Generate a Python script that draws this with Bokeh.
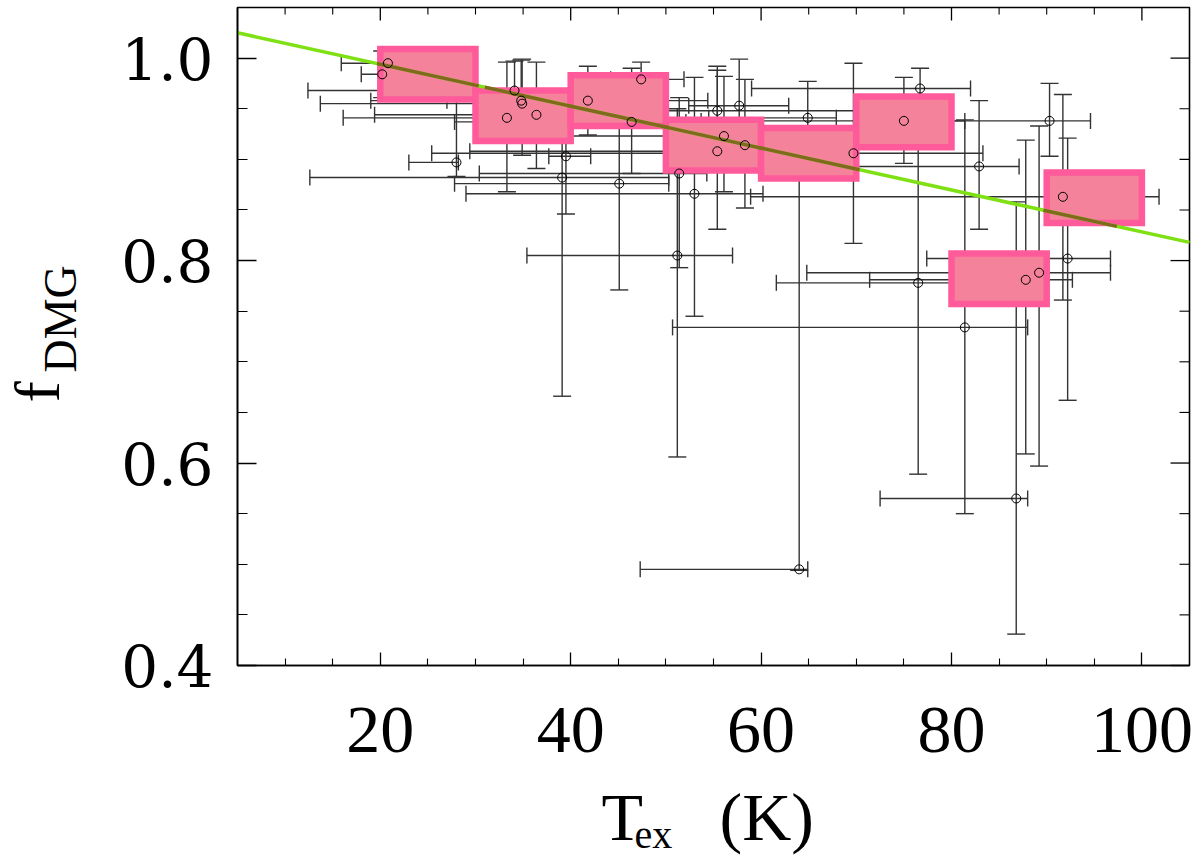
import math
from bokeh.plotting import figure
from bokeh.embed import file_html
from bokeh.resources import INLINE
from bokeh.models import (ColumnDataSource, Range1d, LinearAxis, FixedTicker,
                          PrintfTickFormatter, Whisker, TeeHead, Label)

# excitation temperature (K) with asymmetric error ranges
t_ex = [20.8, 20.2, 28.0, 34.1, 34.8, 34.9, 33.3, 36.4, 41.8, 39.5, 39.1, 45.1,
        47.4, 46.4, 51.4, 51.2, 53.0, 55.4, 55.4, 56.1, 57.7, 58.3, 64.0, 64.9,
        69.7, 75.0, 76.7, 76.5, 81.4, 82.9, 86.8, 87.8, 89.2, 90.3, 91.7, 92.2]
t_lo = [15.9, 18.0, 23.0, 12.4, 19.0, 13.7, 16.1, 19.4, 27.0, 37.7, 12.6, 27.8,
        44.2, 27.8, 30.4, 35.4, 29.0, 41.0, 29.4, 37.5, 52.4, 52.4, 47.3, 54.5,
        25.4, 53.7, 59.0, 61.6, 50.7, 69.1, 72.5, 71.4, 64.8, 76.0, 58.9, 77.4]
t_hi = [25.2, 23.7, 28.2, 48.6, 54.4, 48.6, 40.7, 40.7, 48.6, 42.1, 50.3, 50.3,
        51.9, 52.1, 54.3, 57.0, 60.2, 69.9, 63.9, 61.8, 62.9, 64.1, 64.9, 67.9,
        83.3, 81.4, 82.0, 81.0, 88.0, 87.1, 88.0, 92.7, 96.7, 94.6, 101.8, 96.7]

# depletion factor with error ranges
f_dmg = [0.995, 0.984, 0.897, 0.968, 0.958, 0.955, 0.941, 0.944, 0.958, 0.903, 0.882, 0.876,
         0.979, 0.937, 0.886, 0.805, 0.866, 0.948, 0.908, 0.923, 0.953, 0.914, 0.495, 0.941,
         0.906, 0.938, 0.970, 0.778, 0.734, 0.893, 0.565, 0.781, 0.788, 0.938, 0.863, 0.802]
f_lo = [0.991, 0.961, 0.883, 0.917, 0.917, 0.904, 0.868, 0.891, 0.924, 0.846, 0.666, 0.771,
        0.963, 0.886, 0.793, 0.606, 0.745, 0.905, 0.831, 0.868, 0.904, 0.852, 0.494, 0.906,
        0.817, 0.896, 0.951, 0.589, 0.550, 0.831, 0.431, 0.609, 0.597, 0.903, 0.761, 0.662]
f_hi = [0.998, 1.007, 0.980, 0.997, 0.998, 0.999, 0.996, 0.996, 0.992, 0.962, 0.950, 0.978,
        0.996, 0.990, 0.961, 0.950, 0.981, 0.992, 0.988, 0.982, 0.999, 0.979, 0.881, 0.977,
        0.995, 0.981, 0.990, 0.919, 0.939, 0.958, 0.858, 0.919, 0.933, 0.975, 0.964, 0.921]

# binned means (10 K bins)
bin_lo = [20, 30, 40, 50, 60, 70, 80, 90]
bin_hi = [30, 40, 50, 60, 70, 80, 90, 100]
bin_f = [0.984, 0.943, 0.958, 0.914, 0.906, 0.937, 0.782, 0.862]
bin_err = [0.025, 0.025, 0.025, 0.025, 0.025, 0.025, 0.025, 0.025]

# linear fit, end points
fit_t = [5, 105]
fit_f = [1.025, 0.818]

# ticks
x_ticks = [20, 40, 60, 80, 100]
x_minor = [10, 15, 25, 30, 35, 45, 50, 55, 65, 70, 75, 85, 90, 95]
y_ticks = [0.4, 0.6, 0.8, 1.0]
y_minor = [0.45, 0.5, 0.55, 0.65, 0.7, 0.75, 0.85, 0.9, 0.95]

# visible plot box (data) and where it sits on the canvas (px)
X0, X1 = 5, 105
Y0, Y1 = 0.4, 1.05
W, H = 1200, 856
BOX_L, BOX_R, BOX_T, BOX_B = 237, 1189, 7, 665
kx = (X1 - X0) / (BOX_R - BOX_L)
ky = (Y1 - Y0) / (BOX_B - BOX_T)

# the frame fills the canvas so that the axis titles are not clipped;
# the axes themselves sit at the edges of the data box
p = figure(frame_width=W, frame_height=H,
           x_range=Range1d(X0 - BOX_L * kx, X0 + (W - BOX_L) * kx),
           y_range=Range1d(Y0 - (H - BOX_B) * ky, Y1 + BOX_T * ky),
           output_backend="svg", toolbar_location=None, x_axis_location=None, y_axis_location=None,
           min_border=0)
p.background_fill_color = "white"
p.border_fill_color = "white"
p.outline_line_color = None
p.xgrid.visible = False
p.ygrid.visible = False

xax = LinearAxis(ticker=FixedTicker(ticks=x_ticks, minor_ticks=x_minor),
                 formatter=PrintfTickFormatter(format="%d"), fixed_location=Y0, bounds=(X0, X1))
xax.major_tick_in, xax.minor_tick_in = 13, 7
xax.major_label_text_font = "Liberation Serif"
xax.major_label_text_font_size = "68px"
xax.major_label_standoff = 42

yax = LinearAxis(ticker=FixedTicker(ticks=y_ticks, minor_ticks=y_minor),
                 formatter=PrintfTickFormatter(format="%.1f"), fixed_location=X0, bounds=(Y0, Y1))
yax.major_tick_in, yax.minor_tick_in = 19, 10
yax.major_label_text_font = "DejaVu Serif"
yax.major_label_text_font_size = "58px"
yax.major_label_standoff = 24

for ax in (xax, yax):
    ax.major_tick_out = 0
    ax.minor_tick_out = 0
    ax.axis_line_width = 1.6
    ax.major_tick_line_width = 1.3
    ax.minor_tick_line_width = 1.1
    ax.major_label_text_color = "black"

# box outline, then mirrored ticks on the top and right edges
p.quad(left=[X0], right=[X1], bottom=[Y0], top=[Y1], fill_color=None,
       line_color="black", line_width=1.6)
p.segment(x0=x_ticks, y0=[Y1] * len(x_ticks), x1=x_ticks, y1=[Y1 - 13 * ky] * len(x_ticks),
          line_color="black", line_width=1.3)
p.segment(x0=x_minor, y0=[Y1] * len(x_minor), x1=x_minor, y1=[Y1 - 7 * ky] * len(x_minor),
          line_color="black", line_width=1.1)
p.segment(x0=[X1] * len(y_ticks), y0=y_ticks, x1=[X1 - 19 * kx] * len(y_ticks), y1=y_ticks,
          line_color="black", line_width=1.3)
p.segment(x0=[X1] * len(y_minor), y0=y_minor, x1=[X1 - 10 * kx] * len(y_minor), y1=y_minor,
          line_color="black", line_width=1.1)

# binned boxes
bin_bot = [f - e for f, e in zip(bin_f, bin_err)]
bin_top = [f + e for f, e in zip(bin_f, bin_err)]
p.quad(left=bin_lo, right=bin_hi, bottom=bin_bot, top=bin_top,
       fill_color="#F4829B", line_color="#FF5A9A", line_width=6.5, line_join="miter")

# fit line; where it crosses a pink box it looks darkened (as if multiplied)
p.line(fit_t, fit_f, line_color="#7FE014", line_width=3.5)
slope = (fit_f[1] - fit_f[0]) / (fit_t[1] - fit_t[0])
pad_x, pad_y = 3.25 * kx, 3.25 * ky
sx0, sy0, sx1, sy1 = [], [], [], []
for lo, hi, b, t in zip(bin_lo, bin_hi, bin_bot, bin_top):
    a0 = max(lo - pad_x, fit_t[0] + (t + pad_y - fit_f[0]) / slope)
    a1 = min(hi + pad_x, fit_t[0] + (b - pad_y - fit_f[0]) / slope)
    if a1 > a0:
        sx0.append(a0)
        sx1.append(a1)
        sy0.append(fit_f[0] + slope * (a0 - fit_t[0]))
        sy1.append(fit_f[0] + slope * (a1 - fit_t[0]))
p.segment(x0=sx0, y0=sy0, x1=sx1, y1=sy1, line_color="#806A1E", line_width=3.5)

src = ColumnDataSource(dict(t=t_ex, tlo=t_lo, thi=t_hi, f=f_dmg, flo=f_lo, fhi=f_hi))
bar_col = "#333333"
p.add_layout(Whisker(source=src, base="f", lower="tlo", upper="thi", dimension="width",
                     line_color=bar_col, line_width=1.4,
                     lower_head=TeeHead(size=16, line_color=bar_col, line_width=1.4),
                     upper_head=TeeHead(size=16, line_color=bar_col, line_width=1.4)))
p.add_layout(Whisker(source=src, base="t", lower="flo", upper="fhi", dimension="height",
                     line_color=bar_col, line_width=1.4,
                     lower_head=TeeHead(size=18, line_color=bar_col, line_width=1.4),
                     upper_head=TeeHead(size=18, line_color=bar_col, line_width=1.4)))
p.scatter("t", "f", source=src, marker="circle", size=9, fill_color=None,
          line_color="black", line_width=1)

p.add_layout(xax, "below")
p.add_layout(yax, "left")


# axis titles, placed in canvas pixels by their baseline
def put(text, cx, base, size, angle=0.0):
    shift = 0.3375 * size  # from baseline to the middle of the text box
    if angle:
        cx, cy = base - shift, cx
    else:
        cy = base - shift
    p.add_layout(Label(x=cx, y=cy, x_units="canvas", y_units="canvas", text=text, angle=angle,
                       text_font="Liberation Serif", text_font_size=f"{size}px",
                       text_align="left", text_baseline="middle", text_color="black"))


put("T", 601, 839, 68)
put("ex", 634, 847, 40)
put("(K)", 719, 839, 68)
# rotated: first value is the vertical start of the text, second its baseline x
put("f", 402, 59, 64, math.pi / 2)
put("DMG", 372, 76, 46, math.pi / 2)

open("out.html", "w").write(file_html(p, INLINE))
